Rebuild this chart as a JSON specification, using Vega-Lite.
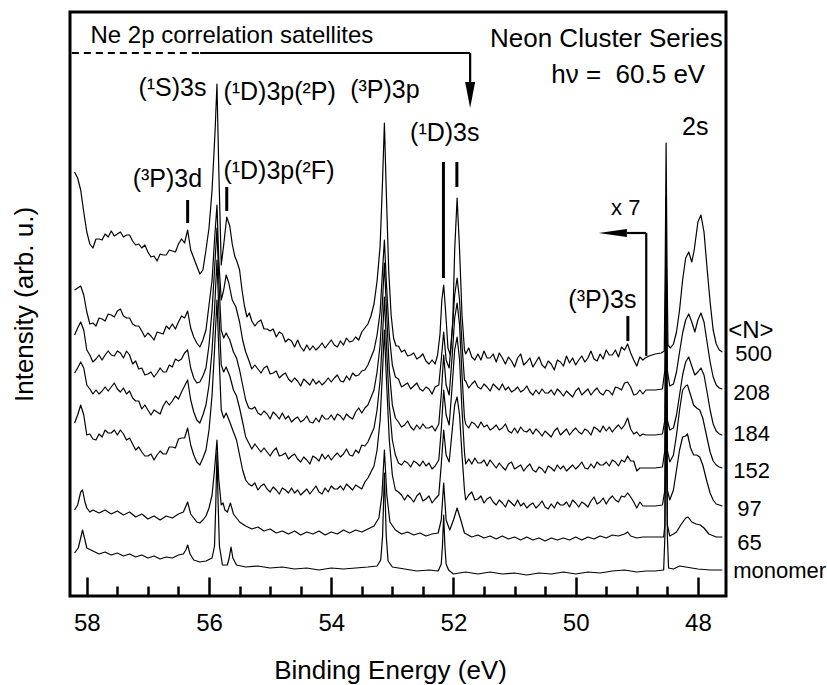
{
"$schema": "https://vega.github.io/schema/vega-lite/v6.json",
"width": 656, "height": 584,
"autosize": {"type": "none"},
"padding": {"left": 70, "top": 12, "right": 101, "bottom": 89},
"background": "white",
"config": {"font": "Liberation Sans", "view": {"stroke": "black", "strokeWidth": 3}},
"datasets": {
"sp": [
{"s":"500","e":58.2,"v":424},{"s":"500","e":58.15,"v":418},{"s":"500","e":58.1,"v":406},{"s":"500","e":58.05,"v":384},{"s":"500","e":58.0,"v":364},
{"s":"500","e":57.95,"v":352},{"s":"500","e":57.9,"v":348},{"s":"500","e":57.85,"v":357},{"s":"500","e":57.8,"v":357},{"s":"500","e":57.75,"v":356},{"s":"500","e":57.7,"v":362},{"s":"500","e":57.65,"v":359},{"s":"500","e":57.6,"v":365},{"s":"500","e":57.55,"v":360},{"s":"500","e":57.5,"v":362},{"s":"500","e":57.45,"v":364},{"s":"500","e":57.4,"v":359},{"s":"500","e":57.35,"v":361},{"s":"500","e":57.3,"v":361},{"s":"500","e":57.25,"v":355},{"s":"500","e":57.2,"v":351},{"s":"500","e":57.15,"v":352},{"s":"500","e":57.1,"v":348},{"s":"500","e":57.05,"v":351},{"s":"500","e":57.0,"v":344},{"s":"500","e":56.95,"v":339},{"s":"500","e":56.9,"v":340},{"s":"500","e":56.85,"v":335},{"s":"500","e":56.8,"v":342},{"s":"500","e":56.75,"v":341},{"s":"500","e":56.7,"v":341},{"s":"500","e":56.65,"v":346},{"s":"500","e":56.6,"v":345},{"s":"500","e":56.55,"v":344},{"s":"500","e":56.5,"v":352},{"s":"500","e":56.45,"v":357},{"s":"500","e":56.4,"v":353},
{"s":"500","e":56.35,"v":366},{"s":"500","e":56.3,"v":346},{"s":"500","e":56.25,"v":338},{"s":"500","e":56.2,"v":330},{"s":"500","e":56.15,"v":322},{"s":"500","e":56.1,"v":326},{"s":"500","e":56.05,"v":346},{"s":"500","e":56.0,"v":368},{"s":"500","e":55.95,"v":406},{"s":"500","e":55.9,"v":466},{"s":"500","e":55.87,"v":512},{"s":"500","e":55.84,"v":426},{"s":"500","e":55.8,"v":331},{"s":"500","e":55.76,"v":351},{"s":"500","e":55.71,"v":379},{"s":"500","e":55.66,"v":370},{"s":"500","e":55.62,"v":352},{"s":"500","e":55.58,"v":340},{"s":"500","e":55.54,"v":334},{"s":"500","e":55.5,"v":326},{"s":"500","e":55.46,"v":306},{"s":"500","e":55.42,"v":290},{"s":"500","e":55.38,"v":279},{"s":"500","e":55.34,"v":283},
{"s":"500","e":55.3,"v":275},{"s":"500","e":55.25,"v":270},{"s":"500","e":55.2,"v":274},{"s":"500","e":55.15,"v":276},{"s":"500","e":55.1,"v":267},{"s":"500","e":55.05,"v":267},{"s":"500","e":55.0,"v":265},{"s":"500","e":54.95,"v":267},{"s":"500","e":54.9,"v":259},{"s":"500","e":54.85,"v":264},{"s":"500","e":54.8,"v":262},{"s":"500","e":54.75,"v":254},{"s":"500","e":54.7,"v":257},{"s":"500","e":54.65,"v":255},{"s":"500","e":54.6,"v":249},{"s":"500","e":54.55,"v":256},{"s":"500","e":54.5,"v":249},{"s":"500","e":54.45,"v":245},{"s":"500","e":54.4,"v":251},{"s":"500","e":54.35,"v":246},{"s":"500","e":54.3,"v":250},{"s":"500","e":54.25,"v":246},{"s":"500","e":54.2,"v":249},{"s":"500","e":54.15,"v":253},{"s":"500","e":54.1,"v":248},{"s":"500","e":54.05,"v":252},{"s":"500","e":54.0,"v":256},{"s":"500","e":53.95,"v":251},{"s":"500","e":53.9,"v":249},{"s":"500","e":53.85,"v":255},{"s":"500","e":53.8,"v":251},{"s":"500","e":53.75,"v":258},{"s":"500","e":53.7,"v":254},{"s":"500","e":53.65,"v":255},{"s":"500","e":53.6,"v":259},{"s":"500","e":53.55,"v":256},{"s":"500","e":53.5,"v":264},
{"s":"500","e":53.45,"v":268},{"s":"500","e":53.4,"v":272},{"s":"500","e":53.35,"v":280},{"s":"500","e":53.3,"v":292},{"s":"500","e":53.25,"v":315},{"s":"500","e":53.2,"v":350},{"s":"500","e":53.16,"v":416},{"s":"500","e":53.13,"v":473},{"s":"500","e":53.1,"v":406},{"s":"500","e":53.06,"v":326},{"s":"500","e":53.02,"v":281},{"s":"500","e":52.98,"v":258},{"s":"500","e":52.94,"v":250},
{"s":"500","e":52.9,"v":250},{"s":"500","e":52.85,"v":244},{"s":"500","e":52.8,"v":246},{"s":"500","e":52.75,"v":240},{"s":"500","e":52.7,"v":241},{"s":"500","e":52.65,"v":243},{"s":"500","e":52.6,"v":237},{"s":"500","e":52.55,"v":239},{"s":"500","e":52.5,"v":242},{"s":"500","e":52.45,"v":235},{"s":"500","e":52.4,"v":232},{"s":"500","e":52.35,"v":236},{"s":"500","e":52.3,"v":232},
{"s":"500","e":52.26,"v":241},{"s":"500","e":52.22,"v":262},{"s":"500","e":52.19,"v":296},{"s":"500","e":52.16,"v":311},{"s":"500","e":52.13,"v":286},{"s":"500","e":52.09,"v":248},{"s":"500","e":52.05,"v":241},{"s":"500","e":52.01,"v":276},{"s":"500","e":51.98,"v":346},{"s":"500","e":51.94,"v":398},{"s":"500","e":51.9,"v":346},{"s":"500","e":51.86,"v":281},{"s":"500","e":51.82,"v":246},
{"s":"500","e":51.8,"v":242},{"s":"500","e":51.75,"v":248},{"s":"500","e":51.7,"v":239},{"s":"500","e":51.65,"v":236},{"s":"500","e":51.6,"v":242},{"s":"500","e":51.55,"v":236},{"s":"500","e":51.5,"v":245},{"s":"500","e":51.45,"v":238},{"s":"500","e":51.4,"v":238},{"s":"500","e":51.35,"v":242},{"s":"500","e":51.3,"v":234},{"s":"500","e":51.25,"v":243},{"s":"500","e":51.2,"v":238},{"s":"500","e":51.15,"v":232},{"s":"500","e":51.1,"v":239},{"s":"500","e":51.05,"v":235},{"s":"500","e":51.0,"v":229},{"s":"500","e":50.95,"v":238},{"s":"500","e":50.9,"v":242},{"s":"500","e":50.85,"v":231},{"s":"500","e":50.8,"v":234},{"s":"500","e":50.75,"v":238},{"s":"500","e":50.7,"v":229},{"s":"500","e":50.65,"v":234},{"s":"500","e":50.6,"v":239},{"s":"500","e":50.55,"v":231},{"s":"500","e":50.5,"v":228},{"s":"500","e":50.45,"v":235},{"s":"500","e":50.4,"v":232},{"s":"500","e":50.35,"v":226},{"s":"500","e":50.3,"v":236},{"s":"500","e":50.25,"v":234},{"s":"500","e":50.2,"v":230},{"s":"500","e":50.15,"v":240},{"s":"500","e":50.1,"v":233},{"s":"500","e":50.05,"v":238},{"s":"500","e":50.0,"v":231},{"s":"500","e":49.95,"v":236},{"s":"500","e":49.9,"v":240},{"s":"500","e":49.85,"v":234},{"s":"500","e":49.8,"v":238},{"s":"500","e":49.75,"v":245},{"s":"500","e":49.7,"v":237},{"s":"500","e":49.65,"v":235},{"s":"500","e":49.6,"v":242},{"s":"500","e":49.55,"v":237},{"s":"500","e":49.5,"v":246},{"s":"500","e":49.45,"v":241},{"s":"500","e":49.4,"v":241},{"s":"500","e":49.35,"v":246},{"s":"500","e":49.3,"v":239},{"s":"500","e":49.25,"v":249},{"s":"500","e":49.2,"v":246},{"s":"500","e":49.15,"v":252},{"s":"500","e":49.1,"v":243},{"s":"500","e":49.05,"v":236},{"s":"500","e":49.0,"v":230},{"s":"500","e":48.95,"v":239},{"s":"500","e":48.9,"v":236},
{"s":"500","e":48.86,"v":238},{"s":"500","e":48.8,"v":240},{"s":"500","e":48.7,"v":242},{"s":"500","e":48.6,"v":243},{"s":"500","e":48.55,"v":245},{"s":"500","e":48.535,"v":330},{"s":"500","e":48.52,"v":453},{"s":"500","e":48.505,"v":330},{"s":"500","e":48.49,"v":251},{"s":"500","e":48.45,"v":248},{"s":"500","e":48.4,"v":252},{"s":"500","e":48.35,"v":264},{"s":"500","e":48.3,"v":286},{"s":"500","e":48.25,"v":316},{"s":"500","e":48.2,"v":338},{"s":"500","e":48.15,"v":344},{"s":"500","e":48.1,"v":334},{"s":"500","e":48.06,"v":346},{"s":"500","e":48.0,"v":374},{"s":"500","e":47.95,"v":381},{"s":"500","e":47.9,"v":364},{"s":"500","e":47.85,"v":328},{"s":"500","e":47.8,"v":294},{"s":"500","e":47.75,"v":266},{"s":"500","e":47.7,"v":252},{"s":"500","e":47.65,"v":246},{"s":"500","e":47.6,"v":244},

{"s":"208","e":58.2,"v":306},{"s":"208","e":58.15,"v":308},{"s":"208","e":58.1,"v":310},{"s":"208","e":58.05,"v":301},{"s":"208","e":58.0,"v":284},
{"s":"208","e":57.95,"v":272},{"s":"208","e":57.9,"v":273},{"s":"208","e":57.85,"v":270},{"s":"208","e":57.8,"v":278},{"s":"208","e":57.75,"v":277},{"s":"208","e":57.7,"v":275},{"s":"208","e":57.65,"v":282},{"s":"208","e":57.6,"v":281},{"s":"208","e":57.55,"v":279},{"s":"208","e":57.5,"v":285},{"s":"208","e":57.45,"v":287},{"s":"208","e":57.4,"v":280},{"s":"208","e":57.35,"v":278},{"s":"208","e":57.3,"v":278},{"s":"208","e":57.25,"v":272},{"s":"208","e":57.2,"v":270},{"s":"208","e":57.15,"v":270},{"s":"208","e":57.1,"v":265},{"s":"208","e":57.05,"v":259},{"s":"208","e":57.0,"v":263},{"s":"208","e":56.95,"v":260},{"s":"208","e":56.9,"v":256},{"s":"208","e":56.85,"v":264},{"s":"208","e":56.8,"v":263},{"s":"208","e":56.75,"v":262},{"s":"208","e":56.7,"v":270},{"s":"208","e":56.65,"v":267},{"s":"208","e":56.6,"v":272},{"s":"208","e":56.55,"v":267},{"s":"208","e":56.5,"v":274},{"s":"208","e":56.45,"v":280},{"s":"208","e":56.4,"v":278},
{"s":"208","e":56.35,"v":285},{"s":"208","e":56.3,"v":268},{"s":"208","e":56.25,"v":259},{"s":"208","e":56.2,"v":253},{"s":"208","e":56.15,"v":249},{"s":"208","e":56.1,"v":256},{"s":"208","e":56.05,"v":266},{"s":"208","e":56.0,"v":291},{"s":"208","e":55.95,"v":316},{"s":"208","e":55.91,"v":356},{"s":"208","e":55.87,"v":391},{"s":"208","e":55.84,"v":336},{"s":"208","e":55.8,"v":296},{"s":"208","e":55.76,"v":306},{"s":"208","e":55.72,"v":321},{"s":"208","e":55.68,"v":314},{"s":"208","e":55.62,"v":296},{"s":"208","e":55.56,"v":289},{"s":"208","e":55.5,"v":274},{"s":"208","e":55.45,"v":256},{"s":"208","e":55.4,"v":244},{"s":"208","e":55.35,"v":236},
{"s":"208","e":55.3,"v":227},{"s":"208","e":55.25,"v":231},{"s":"208","e":55.2,"v":227},{"s":"208","e":55.15,"v":223},{"s":"208","e":55.1,"v":228},{"s":"208","e":55.05,"v":230},{"s":"208","e":55.0,"v":222},{"s":"208","e":54.95,"v":223},{"s":"208","e":54.9,"v":225},{"s":"208","e":54.85,"v":218},{"s":"208","e":54.8,"v":221},{"s":"208","e":54.75,"v":223},{"s":"208","e":54.7,"v":217},{"s":"208","e":54.65,"v":214},{"s":"208","e":54.6,"v":218},{"s":"208","e":54.55,"v":215},{"s":"208","e":54.5,"v":210},{"s":"208","e":54.45,"v":217},{"s":"208","e":54.4,"v":214},{"s":"208","e":54.35,"v":211},{"s":"208","e":54.3,"v":217},{"s":"208","e":54.25,"v":212},{"s":"208","e":54.2,"v":215},{"s":"208","e":54.15,"v":211},{"s":"208","e":54.1,"v":214},{"s":"208","e":54.05,"v":218},{"s":"208","e":54.0,"v":214},{"s":"208","e":53.95,"v":218},{"s":"208","e":53.9,"v":221},{"s":"208","e":53.85,"v":215},{"s":"208","e":53.8,"v":214},{"s":"208","e":53.75,"v":220},{"s":"208","e":53.7,"v":216},{"s":"208","e":53.65,"v":223},{"s":"208","e":53.6,"v":220},{"s":"208","e":53.55,"v":221},{"s":"208","e":53.5,"v":225},
{"s":"208","e":53.45,"v":226},{"s":"208","e":53.4,"v":231},{"s":"208","e":53.3,"v":246},{"s":"208","e":53.25,"v":261},{"s":"208","e":53.2,"v":284},{"s":"208","e":53.16,"v":326},{"s":"208","e":53.13,"v":356},{"s":"208","e":53.1,"v":316},{"s":"208","e":53.05,"v":261},{"s":"208","e":53.0,"v":231},{"s":"208","e":52.95,"v":219},
{"s":"208","e":52.9,"v":217},{"s":"208","e":52.85,"v":209},{"s":"208","e":52.8,"v":211},{"s":"208","e":52.75,"v":213},{"s":"208","e":52.7,"v":207},{"s":"208","e":52.65,"v":210},{"s":"208","e":52.6,"v":213},{"s":"208","e":52.55,"v":207},{"s":"208","e":52.5,"v":205},{"s":"208","e":52.45,"v":209},{"s":"208","e":52.4,"v":207},{"s":"208","e":52.35,"v":202},{"s":"208","e":52.3,"v":209},
{"s":"208","e":52.24,"v":211},{"s":"208","e":52.2,"v":236},{"s":"208","e":52.16,"v":264},{"s":"208","e":52.12,"v":236},{"s":"208","e":52.07,"v":228},{"s":"208","e":52.02,"v":266},{"s":"208","e":51.98,"v":301},{"s":"208","e":51.94,"v":318},{"s":"208","e":51.9,"v":296},{"s":"208","e":51.86,"v":251},{"s":"208","e":51.82,"v":216},
{"s":"208","e":51.8,"v":215},{"s":"208","e":51.75,"v":208},{"s":"208","e":51.7,"v":212},{"s":"208","e":51.65,"v":215},{"s":"208","e":51.6,"v":209},{"s":"208","e":51.55,"v":207},{"s":"208","e":51.5,"v":212},{"s":"208","e":51.45,"v":209},{"s":"208","e":51.4,"v":205},{"s":"208","e":51.35,"v":212},{"s":"208","e":51.3,"v":209},{"s":"208","e":51.25,"v":206},{"s":"208","e":51.2,"v":212},{"s":"208","e":51.15,"v":206},{"s":"208","e":51.1,"v":209},{"s":"208","e":51.05,"v":204},{"s":"208","e":51.0,"v":206},{"s":"208","e":50.95,"v":209},{"s":"208","e":50.9,"v":204},{"s":"208","e":50.85,"v":206},{"s":"208","e":50.8,"v":210},{"s":"208","e":50.75,"v":204},{"s":"208","e":50.7,"v":201},{"s":"208","e":50.65,"v":206},{"s":"208","e":50.6,"v":202},{"s":"208","e":50.55,"v":207},{"s":"208","e":50.5,"v":203},{"s":"208","e":50.45,"v":203},{"s":"208","e":50.4,"v":206},{"s":"208","e":50.35,"v":201},{"s":"208","e":50.3,"v":207},{"s":"208","e":50.25,"v":204},{"s":"208","e":50.2,"v":200},{"s":"208","e":50.15,"v":205},{"s":"208","e":50.1,"v":202},{"s":"208","e":50.05,"v":199},{"s":"208","e":50.0,"v":205},{"s":"208","e":49.95,"v":208},{"s":"208","e":49.9,"v":201},{"s":"208","e":49.85,"v":204},{"s":"208","e":49.8,"v":207},{"s":"208","e":49.75,"v":201},{"s":"208","e":49.7,"v":205},{"s":"208","e":49.65,"v":208},{"s":"208","e":49.6,"v":203},{"s":"208","e":49.55,"v":201},{"s":"208","e":49.5,"v":206},{"s":"208","e":49.45,"v":205},{"s":"208","e":49.4,"v":201},{"s":"208","e":49.35,"v":209},{"s":"208","e":49.3,"v":208},{"s":"208","e":49.25,"v":206},{"s":"208","e":49.2,"v":213},{"s":"208","e":49.15,"v":214},{"s":"208","e":49.1,"v":209},{"s":"208","e":49.05,"v":201},{"s":"208","e":49.0,"v":202},{"s":"208","e":48.95,"v":206},{"s":"208","e":48.9,"v":202},
{"s":"208","e":48.85,"v":206},{"s":"208","e":48.7,"v":206},{"s":"208","e":48.58,"v":207},{"s":"208","e":48.54,"v":226},{"s":"208","e":48.52,"v":366},{"s":"208","e":48.5,"v":226},{"s":"208","e":48.46,"v":210},{"s":"208","e":48.4,"v":212},{"s":"208","e":48.35,"v":224},{"s":"208","e":48.3,"v":244},{"s":"208","e":48.25,"v":263},{"s":"208","e":48.2,"v":276},{"s":"208","e":48.15,"v":282},{"s":"208","e":48.1,"v":274},{"s":"208","e":48.05,"v":264},{"s":"208","e":48.0,"v":276},{"s":"208","e":47.95,"v":283},{"s":"208","e":47.9,"v":274},{"s":"208","e":47.85,"v":254},{"s":"208","e":47.8,"v":234},{"s":"208","e":47.75,"v":219},{"s":"208","e":47.7,"v":211},{"s":"208","e":47.65,"v":208},{"s":"208","e":47.6,"v":207},

{"s":"184","e":58.2,"v":261},{"s":"184","e":58.15,"v":268},{"s":"184","e":58.1,"v":274},{"s":"184","e":58.05,"v":266},{"s":"184","e":58.0,"v":246},
{"s":"184","e":57.95,"v":241},{"s":"184","e":57.9,"v":234},{"s":"184","e":57.85,"v":237},{"s":"184","e":57.8,"v":241},{"s":"184","e":57.75,"v":236},{"s":"184","e":57.7,"v":241},{"s":"184","e":57.65,"v":245},{"s":"184","e":57.6,"v":241},{"s":"184","e":57.55,"v":240},{"s":"184","e":57.5,"v":245},{"s":"184","e":57.45,"v":243},{"s":"184","e":57.4,"v":238},{"s":"184","e":57.35,"v":245},{"s":"184","e":57.3,"v":241},{"s":"184","e":57.25,"v":232},{"s":"184","e":57.2,"v":235},{"s":"184","e":57.15,"v":227},{"s":"184","e":57.1,"v":228},{"s":"184","e":57.05,"v":221},{"s":"184","e":57.0,"v":222},{"s":"184","e":56.95,"v":224},{"s":"184","e":56.9,"v":219},{"s":"184","e":56.85,"v":223},{"s":"184","e":56.8,"v":228},{"s":"184","e":56.75,"v":224},{"s":"184","e":56.7,"v":224},{"s":"184","e":56.65,"v":231},{"s":"184","e":56.6,"v":229},{"s":"184","e":56.55,"v":237},{"s":"184","e":56.5,"v":235},{"s":"184","e":56.45,"v":237},{"s":"184","e":56.4,"v":243},
{"s":"184","e":56.35,"v":246},{"s":"184","e":56.3,"v":228},{"s":"184","e":56.25,"v":218},{"s":"184","e":56.2,"v":213},{"s":"184","e":56.15,"v":214},{"s":"184","e":56.1,"v":220},{"s":"184","e":56.05,"v":228},{"s":"184","e":56.0,"v":251},{"s":"184","e":55.95,"v":286},{"s":"184","e":55.91,"v":326},{"s":"184","e":55.87,"v":368},{"s":"184","e":55.84,"v":316},{"s":"184","e":55.8,"v":266},{"s":"184","e":55.76,"v":258},{"s":"184","e":55.72,"v":263},{"s":"184","e":55.66,"v":256},{"s":"184","e":55.6,"v":244},{"s":"184","e":55.55,"v":238},{"s":"184","e":55.5,"v":226},{"s":"184","e":55.45,"v":211},{"s":"184","e":55.4,"v":196},{"s":"184","e":55.35,"v":188},
{"s":"184","e":55.3,"v":187},{"s":"184","e":55.25,"v":189},{"s":"184","e":55.2,"v":183},{"s":"184","e":55.15,"v":181},{"s":"184","e":55.1,"v":185},{"s":"184","e":55.05,"v":182},{"s":"184","e":55.0,"v":177},{"s":"184","e":54.95,"v":184},{"s":"184","e":54.9,"v":181},{"s":"184","e":54.85,"v":177},{"s":"184","e":54.8,"v":183},{"s":"184","e":54.75,"v":177},{"s":"184","e":54.7,"v":180},{"s":"184","e":54.65,"v":174},{"s":"184","e":54.6,"v":177},{"s":"184","e":54.55,"v":179},{"s":"184","e":54.5,"v":174},{"s":"184","e":54.45,"v":176},{"s":"184","e":54.4,"v":180},{"s":"184","e":54.35,"v":174},{"s":"184","e":54.3,"v":173},{"s":"184","e":54.25,"v":178},{"s":"184","e":54.2,"v":174},{"s":"184","e":54.15,"v":181},{"s":"184","e":54.1,"v":177},{"s":"184","e":54.05,"v":177},{"s":"184","e":54.0,"v":181},{"s":"184","e":53.95,"v":176},{"s":"184","e":53.9,"v":182},{"s":"184","e":53.85,"v":180},{"s":"184","e":53.8,"v":176},{"s":"184","e":53.75,"v":182},{"s":"184","e":53.7,"v":179},{"s":"184","e":53.65,"v":177},{"s":"184","e":53.6,"v":184},{"s":"184","e":53.55,"v":188},{"s":"184","e":53.5,"v":183},
{"s":"184","e":53.45,"v":188},{"s":"184","e":53.4,"v":191},{"s":"184","e":53.3,"v":206},{"s":"184","e":53.25,"v":224},{"s":"184","e":53.2,"v":251},{"s":"184","e":53.16,"v":296},{"s":"184","e":53.13,"v":333},{"s":"184","e":53.1,"v":291},{"s":"184","e":53.05,"v":226},{"s":"184","e":53.0,"v":191},{"s":"184","e":52.95,"v":178},
{"s":"184","e":52.9,"v":174},{"s":"184","e":52.85,"v":169},{"s":"184","e":52.8,"v":171},{"s":"184","e":52.75,"v":175},{"s":"184","e":52.7,"v":169},{"s":"184","e":52.65,"v":166},{"s":"184","e":52.6,"v":171},{"s":"184","e":52.55,"v":167},{"s":"184","e":52.5,"v":172},{"s":"184","e":52.45,"v":168},{"s":"184","e":52.4,"v":168},{"s":"184","e":52.35,"v":170},{"s":"184","e":52.3,"v":165},
{"s":"184","e":52.24,"v":172},{"s":"184","e":52.2,"v":201},{"s":"184","e":52.16,"v":241},{"s":"184","e":52.12,"v":211},{"s":"184","e":52.07,"v":201},{"s":"184","e":52.02,"v":241},{"s":"184","e":51.98,"v":278},{"s":"184","e":51.94,"v":293},{"s":"184","e":51.9,"v":271},{"s":"184","e":51.86,"v":221},{"s":"184","e":51.82,"v":178},
{"s":"184","e":51.8,"v":172},{"s":"184","e":51.75,"v":168},{"s":"184","e":51.7,"v":174},{"s":"184","e":51.65,"v":172},{"s":"184","e":51.6,"v":168},{"s":"184","e":51.55,"v":174},{"s":"184","e":51.5,"v":169},{"s":"184","e":51.45,"v":171},{"s":"184","e":51.4,"v":166},{"s":"184","e":51.35,"v":168},{"s":"184","e":51.3,"v":171},{"s":"184","e":51.25,"v":166},{"s":"184","e":51.2,"v":168},{"s":"184","e":51.15,"v":172},{"s":"184","e":51.1,"v":165},{"s":"184","e":51.05,"v":163},{"s":"184","e":51.0,"v":168},{"s":"184","e":50.95,"v":163},{"s":"184","e":50.9,"v":169},{"s":"184","e":50.85,"v":165},{"s":"184","e":50.8,"v":164},{"s":"184","e":50.75,"v":167},{"s":"184","e":50.7,"v":162},{"s":"184","e":50.65,"v":167},{"s":"184","e":50.6,"v":164},{"s":"184","e":50.55,"v":160},{"s":"184","e":50.5,"v":165},{"s":"184","e":50.45,"v":162},{"s":"184","e":50.4,"v":159},{"s":"184","e":50.35,"v":165},{"s":"184","e":50.3,"v":168},{"s":"184","e":50.25,"v":161},{"s":"184","e":50.2,"v":164},{"s":"184","e":50.15,"v":167},{"s":"184","e":50.1,"v":161},{"s":"184","e":50.05,"v":165},{"s":"184","e":50.0,"v":168},{"s":"184","e":49.95,"v":164},{"s":"184","e":49.9,"v":162},{"s":"184","e":49.85,"v":167},{"s":"184","e":49.8,"v":165},{"s":"184","e":49.75,"v":161},{"s":"184","e":49.7,"v":169},{"s":"184","e":49.65,"v":167},{"s":"184","e":49.6,"v":164},{"s":"184","e":49.55,"v":170},{"s":"184","e":49.5,"v":165},{"s":"184","e":49.45,"v":169},{"s":"184","e":49.4,"v":164},{"s":"184","e":49.35,"v":168},{"s":"184","e":49.3,"v":171},{"s":"184","e":49.25,"v":167},{"s":"184","e":49.2,"v":171},{"s":"184","e":49.15,"v":178},{"s":"184","e":49.1,"v":167},{"s":"184","e":49.05,"v":162},{"s":"184","e":49.0,"v":164},{"s":"184","e":48.95,"v":160},{"s":"184","e":48.9,"v":162},
{"s":"184","e":48.85,"v":161},{"s":"184","e":48.7,"v":161},{"s":"184","e":48.58,"v":162},{"s":"184","e":48.54,"v":176},{"s":"184","e":48.52,"v":333},{"s":"184","e":48.5,"v":176},{"s":"184","e":48.46,"v":166},{"s":"184","e":48.4,"v":168},{"s":"184","e":48.35,"v":181},{"s":"184","e":48.3,"v":201},{"s":"184","e":48.25,"v":221},{"s":"184","e":48.2,"v":234},{"s":"184","e":48.15,"v":239},{"s":"184","e":48.1,"v":230},{"s":"184","e":48.05,"v":221},{"s":"184","e":48.0,"v":224},{"s":"184","e":47.95,"v":228},{"s":"184","e":47.9,"v":221},{"s":"184","e":47.85,"v":204},{"s":"184","e":47.8,"v":186},{"s":"184","e":47.75,"v":172},{"s":"184","e":47.7,"v":165},{"s":"184","e":47.65,"v":162},{"s":"184","e":47.6,"v":161},

{"s":"152","e":58.2,"v":223},{"s":"152","e":58.15,"v":228},{"s":"152","e":58.1,"v":234},{"s":"152","e":58.05,"v":228},{"s":"152","e":58.0,"v":211},
{"s":"152","e":57.95,"v":207},{"s":"152","e":57.9,"v":202},{"s":"152","e":57.85,"v":206},{"s":"152","e":57.8,"v":202},{"s":"152","e":57.75,"v":205},{"s":"152","e":57.7,"v":209},{"s":"152","e":57.65,"v":205},{"s":"152","e":57.6,"v":209},{"s":"152","e":57.55,"v":213},{"s":"152","e":57.5,"v":207},{"s":"152","e":57.45,"v":204},{"s":"152","e":57.4,"v":208},{"s":"152","e":57.35,"v":202},{"s":"152","e":57.3,"v":205},{"s":"152","e":57.25,"v":198},{"s":"152","e":57.2,"v":195},{"s":"152","e":57.15,"v":195},{"s":"152","e":57.1,"v":187},{"s":"152","e":57.05,"v":191},{"s":"152","e":57.0,"v":186},{"s":"152","e":56.95,"v":181},{"s":"152","e":56.9,"v":186},{"s":"152","e":56.85,"v":184},{"s":"152","e":56.8,"v":182},{"s":"152","e":56.75,"v":190},{"s":"152","e":56.7,"v":195},{"s":"152","e":56.65,"v":191},{"s":"152","e":56.6,"v":195},{"s":"152","e":56.55,"v":200},{"s":"152","e":56.5,"v":197},{"s":"152","e":56.45,"v":204},{"s":"152","e":56.4,"v":210},
{"s":"152","e":56.35,"v":216},{"s":"152","e":56.3,"v":196},{"s":"152","e":56.25,"v":184},{"s":"152","e":56.2,"v":176},{"s":"152","e":56.15,"v":173},{"s":"152","e":56.1,"v":181},{"s":"152","e":56.05,"v":191},{"s":"152","e":56.0,"v":211},{"s":"152","e":55.95,"v":246},{"s":"152","e":55.91,"v":286},{"s":"152","e":55.87,"v":336},{"s":"152","e":55.84,"v":286},{"s":"152","e":55.8,"v":231},{"s":"152","e":55.76,"v":224},{"s":"152","e":55.72,"v":229},{"s":"152","e":55.66,"v":220},{"s":"152","e":55.6,"v":206},{"s":"152","e":55.55,"v":200},{"s":"152","e":55.5,"v":188},{"s":"152","e":55.45,"v":174},{"s":"152","e":55.4,"v":159},{"s":"152","e":55.35,"v":153},
{"s":"152","e":55.3,"v":147},{"s":"152","e":55.25,"v":152},{"s":"152","e":55.2,"v":148},{"s":"152","e":55.15,"v":144},{"s":"152","e":55.1,"v":148},{"s":"152","e":55.05,"v":144},{"s":"152","e":55.0,"v":140},{"s":"152","e":54.95,"v":145},{"s":"152","e":54.9,"v":148},{"s":"152","e":54.85,"v":140},{"s":"152","e":54.8,"v":141},{"s":"152","e":54.75,"v":143},{"s":"152","e":54.7,"v":137},{"s":"152","e":54.65,"v":140},{"s":"152","e":54.6,"v":142},{"s":"152","e":54.55,"v":137},{"s":"152","e":54.5,"v":134},{"s":"152","e":54.45,"v":139},{"s":"152","e":54.4,"v":136},{"s":"152","e":54.35,"v":132},{"s":"152","e":54.3,"v":140},{"s":"152","e":54.25,"v":138},{"s":"152","e":54.2,"v":135},{"s":"152","e":54.15,"v":142},{"s":"152","e":54.1,"v":137},{"s":"152","e":54.05,"v":141},{"s":"152","e":54.0,"v":136},{"s":"152","e":53.95,"v":140},{"s":"152","e":53.9,"v":143},{"s":"152","e":53.85,"v":139},{"s":"152","e":53.8,"v":142},{"s":"152","e":53.75,"v":147},{"s":"152","e":53.7,"v":141},{"s":"152","e":53.65,"v":140},{"s":"152","e":53.6,"v":146},{"s":"152","e":53.55,"v":143},{"s":"152","e":53.5,"v":151},
{"s":"152","e":53.45,"v":150},{"s":"152","e":53.4,"v":154},{"s":"152","e":53.3,"v":168},{"s":"152","e":53.25,"v":186},{"s":"152","e":53.2,"v":216},{"s":"152","e":53.16,"v":261},{"s":"152","e":53.13,"v":299},{"s":"152","e":53.1,"v":256},{"s":"152","e":53.05,"v":191},{"s":"152","e":53.0,"v":156},{"s":"152","e":52.95,"v":141},
{"s":"152","e":52.9,"v":133},{"s":"152","e":52.85,"v":131},{"s":"152","e":52.8,"v":135},{"s":"152","e":52.75,"v":133},{"s":"152","e":52.7,"v":129},{"s":"152","e":52.65,"v":135},{"s":"152","e":52.6,"v":133},{"s":"152","e":52.55,"v":130},{"s":"152","e":52.5,"v":135},{"s":"152","e":52.45,"v":130},{"s":"152","e":52.4,"v":133},{"s":"152","e":52.35,"v":127},{"s":"152","e":52.3,"v":130},
{"s":"152","e":52.24,"v":136},{"s":"152","e":52.2,"v":166},{"s":"152","e":52.16,"v":206},{"s":"152","e":52.12,"v":181},{"s":"152","e":52.07,"v":171},{"s":"152","e":52.02,"v":211},{"s":"152","e":51.98,"v":246},{"s":"152","e":51.94,"v":259},{"s":"152","e":51.9,"v":236},{"s":"152","e":51.86,"v":186},{"s":"152","e":51.82,"v":144},
{"s":"152","e":51.8,"v":132},{"s":"152","e":51.75,"v":137},{"s":"152","e":51.7,"v":132},{"s":"152","e":51.65,"v":138},{"s":"152","e":51.6,"v":133},{"s":"152","e":51.55,"v":133},{"s":"152","e":51.5,"v":136},{"s":"152","e":51.45,"v":130},{"s":"152","e":51.4,"v":136},{"s":"152","e":51.35,"v":132},{"s":"152","e":51.3,"v":128},{"s":"152","e":51.25,"v":133},{"s":"152","e":51.2,"v":129},{"s":"152","e":51.15,"v":126},{"s":"152","e":51.1,"v":132},{"s":"152","e":51.05,"v":134},{"s":"152","e":51.0,"v":127},{"s":"152","e":50.95,"v":129},{"s":"152","e":50.9,"v":131},{"s":"152","e":50.85,"v":125},{"s":"152","e":50.8,"v":129},{"s":"152","e":50.75,"v":132},{"s":"152","e":50.7,"v":126},{"s":"152","e":50.65,"v":124},{"s":"152","e":50.6,"v":129},{"s":"152","e":50.55,"v":127},{"s":"152","e":50.5,"v":123},{"s":"152","e":50.45,"v":130},{"s":"152","e":50.4,"v":128},{"s":"152","e":50.35,"v":125},{"s":"152","e":50.3,"v":131},{"s":"152","e":50.25,"v":127},{"s":"152","e":50.2,"v":130},{"s":"152","e":50.15,"v":125},{"s":"152","e":50.1,"v":128},{"s":"152","e":50.05,"v":131},{"s":"152","e":50.0,"v":127},{"s":"152","e":49.95,"v":130},{"s":"152","e":49.9,"v":134},{"s":"152","e":49.85,"v":128},{"s":"152","e":49.8,"v":127},{"s":"152","e":49.75,"v":132},{"s":"152","e":49.7,"v":128},{"s":"152","e":49.65,"v":134},{"s":"152","e":49.6,"v":131},{"s":"152","e":49.55,"v":131},{"s":"152","e":49.5,"v":134},{"s":"152","e":49.45,"v":130},{"s":"152","e":49.4,"v":136},{"s":"152","e":49.35,"v":134},{"s":"152","e":49.3,"v":130},{"s":"152","e":49.25,"v":136},{"s":"152","e":49.2,"v":134},{"s":"152","e":49.15,"v":140},{"s":"152","e":49.1,"v":135},{"s":"152","e":49.05,"v":135},{"s":"152","e":49.0,"v":125},{"s":"152","e":48.95,"v":128},{"s":"152","e":48.9,"v":128},
{"s":"152","e":48.85,"v":128},{"s":"152","e":48.7,"v":128},{"s":"152","e":48.58,"v":129},{"s":"152","e":48.54,"v":146},{"s":"152","e":48.52,"v":296},{"s":"152","e":48.5,"v":146},{"s":"152","e":48.46,"v":134},{"s":"152","e":48.4,"v":141},{"s":"152","e":48.35,"v":161},{"s":"152","e":48.3,"v":186},{"s":"152","e":48.25,"v":206},{"s":"152","e":48.2,"v":210},{"s":"152","e":48.17,"v":211},{"s":"152","e":48.12,"v":201},{"s":"152","e":48.07,"v":191},{"s":"152","e":48.02,"v":188},{"s":"152","e":47.97,"v":186},{"s":"152","e":47.92,"v":178},{"s":"152","e":47.85,"v":158},{"s":"152","e":47.8,"v":144},{"s":"152","e":47.75,"v":135},{"s":"152","e":47.7,"v":131},{"s":"152","e":47.65,"v":129},{"s":"152","e":47.6,"v":128},

{"s":"97","e":58.2,"v":173},{"s":"97","e":58.15,"v":181},{"s":"97","e":58.1,"v":191},{"s":"97","e":58.05,"v":181},{"s":"97","e":58.0,"v":161},
{"s":"97","e":57.95,"v":162},{"s":"97","e":57.9,"v":157},{"s":"97","e":57.85,"v":156},{"s":"97","e":57.8,"v":162},{"s":"97","e":57.75,"v":159},{"s":"97","e":57.7,"v":166},{"s":"97","e":57.65,"v":163},{"s":"97","e":57.6,"v":163},{"s":"97","e":57.55,"v":166},{"s":"97","e":57.5,"v":161},{"s":"97","e":57.45,"v":166},{"s":"97","e":57.4,"v":162},{"s":"97","e":57.35,"v":156},{"s":"97","e":57.3,"v":158},{"s":"97","e":57.25,"v":152},{"s":"97","e":57.2,"v":146},{"s":"97","e":57.15,"v":149},{"s":"97","e":57.1,"v":144},{"s":"97","e":57.05,"v":140},{"s":"97","e":57.0,"v":140},{"s":"97","e":56.95,"v":142},{"s":"97","e":56.9,"v":136},{"s":"97","e":56.85,"v":141},{"s":"97","e":56.8,"v":145},{"s":"97","e":56.75,"v":142},{"s":"97","e":56.7,"v":142},{"s":"97","e":56.65,"v":149},{"s":"97","e":56.6,"v":149},{"s":"97","e":56.55,"v":148},{"s":"97","e":56.5,"v":157},{"s":"97","e":56.45,"v":158},{"s":"97","e":56.4,"v":158},
{"s":"97","e":56.35,"v":168},{"s":"97","e":56.3,"v":151},{"s":"97","e":56.25,"v":141},{"s":"97","e":56.2,"v":134},{"s":"97","e":56.15,"v":131},{"s":"97","e":56.1,"v":138},{"s":"97","e":56.05,"v":146},{"s":"97","e":56.0,"v":166},{"s":"97","e":55.95,"v":201},{"s":"97","e":55.91,"v":246},{"s":"97","e":55.87,"v":296},{"s":"97","e":55.84,"v":246},{"s":"97","e":55.8,"v":186},{"s":"97","e":55.76,"v":178},{"s":"97","e":55.72,"v":183},{"s":"97","e":55.66,"v":174},{"s":"97","e":55.6,"v":164},{"s":"97","e":55.55,"v":156},{"s":"97","e":55.5,"v":141},{"s":"97","e":55.45,"v":126},{"s":"97","e":55.4,"v":116},{"s":"97","e":55.35,"v":112},
{"s":"97","e":55.3,"v":110},{"s":"97","e":55.25,"v":113},{"s":"97","e":55.2,"v":106},{"s":"97","e":55.15,"v":110},{"s":"97","e":55.1,"v":112},{"s":"97","e":55.05,"v":107},{"s":"97","e":55.0,"v":104},{"s":"97","e":54.95,"v":109},{"s":"97","e":54.9,"v":106},{"s":"97","e":54.85,"v":102},{"s":"97","e":54.8,"v":108},{"s":"97","e":54.75,"v":106},{"s":"97","e":54.7,"v":103},{"s":"97","e":54.65,"v":108},{"s":"97","e":54.6,"v":103},{"s":"97","e":54.55,"v":106},{"s":"97","e":54.5,"v":101},{"s":"97","e":54.45,"v":104},{"s":"97","e":54.4,"v":107},{"s":"97","e":54.35,"v":102},{"s":"97","e":54.3,"v":106},{"s":"97","e":54.25,"v":110},{"s":"97","e":54.2,"v":104},{"s":"97","e":54.15,"v":102},{"s":"97","e":54.1,"v":108},{"s":"97","e":54.05,"v":104},{"s":"97","e":54.0,"v":110},{"s":"97","e":53.95,"v":107},{"s":"97","e":53.9,"v":107},{"s":"97","e":53.85,"v":110},{"s":"97","e":53.8,"v":106},{"s":"97","e":53.75,"v":112},{"s":"97","e":53.7,"v":109},{"s":"97","e":53.65,"v":106},{"s":"97","e":53.6,"v":111},{"s":"97","e":53.55,"v":109},{"s":"97","e":53.5,"v":107},
{"s":"97","e":53.45,"v":114},{"s":"97","e":53.4,"v":118},{"s":"97","e":53.3,"v":130},{"s":"97","e":53.25,"v":146},{"s":"97","e":53.2,"v":176},{"s":"97","e":53.16,"v":226},{"s":"97","e":53.13,"v":266},{"s":"97","e":53.1,"v":221},{"s":"97","e":53.05,"v":156},{"s":"97","e":53.0,"v":121},{"s":"97","e":52.95,"v":106},
{"s":"97","e":52.9,"v":104},{"s":"97","e":52.85,"v":101},{"s":"97","e":52.8,"v":96},{"s":"97","e":52.75,"v":101},{"s":"97","e":52.7,"v":98},{"s":"97","e":52.65,"v":94},{"s":"97","e":52.6,"v":100},{"s":"97","e":52.55,"v":103},{"s":"97","e":52.5,"v":95},{"s":"97","e":52.45,"v":97},{"s":"97","e":52.4,"v":100},{"s":"97","e":52.35,"v":93},{"s":"97","e":52.3,"v":97},
{"s":"97","e":52.24,"v":101},{"s":"97","e":52.2,"v":131},{"s":"97","e":52.16,"v":166},{"s":"97","e":52.12,"v":141},{"s":"97","e":52.07,"v":134},{"s":"97","e":52.02,"v":166},{"s":"97","e":51.98,"v":191},{"s":"97","e":51.94,"v":199},{"s":"97","e":51.9,"v":181},{"s":"97","e":51.86,"v":141},{"s":"97","e":51.82,"v":106},
{"s":"97","e":51.8,"v":96},{"s":"97","e":51.75,"v":101},{"s":"97","e":51.7,"v":104},{"s":"97","e":51.65,"v":96},{"s":"97","e":51.6,"v":97},{"s":"97","e":51.55,"v":100},{"s":"97","e":51.5,"v":93},{"s":"97","e":51.45,"v":97},{"s":"97","e":51.4,"v":99},{"s":"97","e":51.35,"v":94},{"s":"97","e":51.3,"v":91},{"s":"97","e":51.25,"v":96},{"s":"97","e":51.2,"v":93},{"s":"97","e":51.15,"v":89},{"s":"97","e":51.1,"v":96},{"s":"97","e":51.05,"v":93},{"s":"97","e":51.0,"v":90},{"s":"97","e":50.95,"v":96},{"s":"97","e":50.9,"v":90},{"s":"97","e":50.85,"v":93},{"s":"97","e":50.8,"v":88},{"s":"97","e":50.75,"v":91},{"s":"97","e":50.7,"v":93},{"s":"97","e":50.65,"v":88},{"s":"97","e":50.6,"v":91},{"s":"97","e":50.55,"v":95},{"s":"97","e":50.5,"v":89},{"s":"97","e":50.45,"v":87},{"s":"97","e":50.4,"v":92},{"s":"97","e":50.35,"v":88},{"s":"97","e":50.3,"v":94},{"s":"97","e":50.25,"v":91},{"s":"97","e":50.2,"v":91},{"s":"97","e":50.15,"v":94},{"s":"97","e":50.1,"v":89},{"s":"97","e":50.05,"v":96},{"s":"97","e":50.0,"v":93},{"s":"97","e":49.95,"v":89},{"s":"97","e":49.9,"v":94},{"s":"97","e":49.85,"v":92},{"s":"97","e":49.8,"v":89},{"s":"97","e":49.75,"v":95},{"s":"97","e":49.7,"v":99},{"s":"97","e":49.65,"v":92},{"s":"97","e":49.6,"v":94},{"s":"97","e":49.55,"v":98},{"s":"97","e":49.5,"v":92},{"s":"97","e":49.45,"v":97},{"s":"97","e":49.4,"v":100},{"s":"97","e":49.35,"v":96},{"s":"97","e":49.3,"v":94},{"s":"97","e":49.25,"v":100},{"s":"97","e":49.2,"v":99},{"s":"97","e":49.15,"v":103},{"s":"97","e":49.1,"v":99},{"s":"97","e":49.05,"v":94},{"s":"97","e":49.0,"v":88},{"s":"97","e":48.95,"v":94},{"s":"97","e":48.9,"v":90},
{"s":"97","e":48.85,"v":90},{"s":"97","e":48.7,"v":90},{"s":"97","e":48.58,"v":91},{"s":"97","e":48.54,"v":106},{"s":"97","e":48.52,"v":246},{"s":"97","e":48.5,"v":106},{"s":"97","e":48.46,"v":96},{"s":"97","e":48.4,"v":106},{"s":"97","e":48.35,"v":126},{"s":"97","e":48.3,"v":146},{"s":"97","e":48.25,"v":159},{"s":"97","e":48.2,"v":160},{"s":"97","e":48.17,"v":162},{"s":"97","e":48.12,"v":148},{"s":"97","e":48.07,"v":141},{"s":"97","e":48.02,"v":141},{"s":"97","e":47.97,"v":139},{"s":"97","e":47.92,"v":131},{"s":"97","e":47.85,"v":114},{"s":"97","e":47.8,"v":103},{"s":"97","e":47.75,"v":96},{"s":"97","e":47.7,"v":92},{"s":"97","e":47.65,"v":91},{"s":"97","e":47.6,"v":90},

{"s":"65","e":58.2,"v":86},{"s":"65","e":58.15,"v":91},{"s":"65","e":58.1,"v":104},{"s":"65","e":58.07,"v":106},{"s":"65","e":58.03,"v":94},{"s":"65","e":58.0,"v":88},{"s":"65","e":57.95,"v":84},{"s":"65","e":57.9,"v":86},{"s":"65","e":57.8,"v":83},{"s":"65","e":57.7,"v":86},{"s":"65","e":57.6,"v":82},{"s":"65","e":57.5,"v":85},{"s":"65","e":57.4,"v":81},{"s":"65","e":57.3,"v":84},{"s":"65","e":57.2,"v":79},{"s":"65","e":57.1,"v":82},{"s":"65","e":57.0,"v":77},{"s":"65","e":56.9,"v":80},{"s":"65","e":56.8,"v":76},{"s":"65","e":56.7,"v":80},{"s":"65","e":56.6,"v":78},{"s":"65","e":56.5,"v":82},{"s":"65","e":56.42,"v":84},{"s":"65","e":56.35,"v":94},{"s":"65","e":56.3,"v":82},{"s":"65","e":56.25,"v":78},{"s":"65","e":56.2,"v":74},{"s":"65","e":56.15,"v":73},{"s":"65","e":56.1,"v":76},{"s":"65","e":56.05,"v":80},{"s":"65","e":56.0,"v":88},{"s":"65","e":55.95,"v":101},{"s":"65","e":55.91,"v":126},{"s":"65","e":55.87,"v":156},{"s":"65","e":55.84,"v":116},{"s":"65","e":55.8,"v":91},{"s":"65","e":55.77,"v":93},{"s":"65","e":55.74,"v":86},{"s":"65","e":55.7,"v":84},{"s":"65","e":55.65,"v":93},{"s":"65","e":55.6,"v":82},{"s":"65","e":55.55,"v":78},{"s":"65","e":55.5,"v":74},{"s":"65","e":55.4,"v":70},{"s":"65","e":55.3,"v":67},{"s":"65","e":55.2,"v":69},{"s":"65","e":55.1,"v":65},{"s":"65","e":55.0,"v":67},{"s":"65","e":54.9,"v":63},{"s":"65","e":54.8,"v":65},{"s":"65","e":54.7,"v":62},{"s":"65","e":54.6,"v":65},{"s":"65","e":54.5,"v":61},{"s":"65","e":54.4,"v":64},{"s":"65","e":54.3,"v":62},{"s":"65","e":54.2,"v":65},{"s":"65","e":54.1,"v":61},{"s":"65","e":54.0,"v":64},{"s":"65","e":53.9,"v":62},{"s":"65","e":53.8,"v":66},{"s":"65","e":53.7,"v":63},{"s":"65","e":53.6,"v":66},{"s":"65","e":53.5,"v":64},{"s":"65","e":53.4,"v":67},{"s":"65","e":53.3,"v":70},{"s":"65","e":53.22,"v":78},{"s":"65","e":53.17,"v":101},{"s":"65","e":53.13,"v":146},{"s":"65","e":53.09,"v":101},{"s":"65","e":53.04,"v":74},{"s":"65","e":52.95,"v":66},{"s":"65","e":52.85,"v":62},{"s":"65","e":52.75,"v":64},{"s":"65","e":52.65,"v":61},{"s":"65","e":52.55,"v":63},{"s":"65","e":52.45,"v":60},{"s":"65","e":52.35,"v":62},{"s":"65","e":52.25,"v":63},{"s":"65","e":52.2,"v":76},{"s":"65","e":52.16,"v":113},{"s":"65","e":52.12,"v":76},{"s":"65","e":52.06,"v":66},{"s":"65","e":52.0,"v":76},{"s":"65","e":51.94,"v":88},{"s":"65","e":51.88,"v":76},{"s":"65","e":51.82,"v":63},{"s":"65","e":51.7,"v":59},{"s":"65","e":51.6,"v":61},{"s":"65","e":51.5,"v":58},{"s":"65","e":51.4,"v":60},{"s":"65","e":51.3,"v":57},{"s":"65","e":51.2,"v":60},{"s":"65","e":51.1,"v":57},{"s":"65","e":51.0,"v":59},{"s":"65","e":50.9,"v":56},{"s":"65","e":50.8,"v":59},{"s":"65","e":50.7,"v":56},{"s":"65","e":50.6,"v":58},{"s":"65","e":50.5,"v":55},{"s":"65","e":50.4,"v":58},{"s":"65","e":50.3,"v":56},{"s":"65","e":50.2,"v":58},{"s":"65","e":50.1,"v":56},{"s":"65","e":50.0,"v":59},{"s":"65","e":49.9,"v":56},{"s":"65","e":49.8,"v":59},{"s":"65","e":49.7,"v":57},{"s":"65","e":49.6,"v":60},{"s":"65","e":49.5,"v":58},{"s":"65","e":49.4,"v":61},{"s":"65","e":49.3,"v":60},{"s":"65","e":49.2,"v":62},{"s":"65","e":49.15,"v":64},{"s":"65","e":49.1,"v":60},{"s":"65","e":49.0,"v":58},{"s":"65","e":48.9,"v":59},{"s":"65","e":48.85,"v":59},{"s":"65","e":48.7,"v":59},{"s":"65","e":48.56,"v":59},{"s":"65","e":48.54,"v":71},{"s":"65","e":48.52,"v":189},{"s":"65","e":48.5,"v":71},{"s":"65","e":48.46,"v":60},{"s":"65","e":48.4,"v":62},{"s":"65","e":48.35,"v":64},{"s":"65","e":48.28,"v":71},{"s":"65","e":48.2,"v":78},{"s":"65","e":48.16,"v":79},{"s":"65","e":48.1,"v":74},{"s":"65","e":48.03,"v":72},{"s":"65","e":47.96,"v":71},{"s":"65","e":47.9,"v":68},{"s":"65","e":47.82,"v":62},{"s":"65","e":47.7,"v":59},{"s":"65","e":47.6,"v":59},

{"s":"mono","e":58.2,"v":43},{"s":"mono","e":58.14,"v":48},{"s":"mono","e":58.1,"v":58},{"s":"mono","e":58.07,"v":66},{"s":"mono","e":58.03,"v":56},{"s":"mono","e":58.0,"v":48},{"s":"mono","e":57.9,"v":45},{"s":"mono","e":57.8,"v":42},{"s":"mono","e":57.7,"v":44},{"s":"mono","e":57.6,"v":41},{"s":"mono","e":57.5,"v":43},{"s":"mono","e":57.4,"v":40},{"s":"mono","e":57.3,"v":42},{"s":"mono","e":57.2,"v":39},{"s":"mono","e":57.1,"v":41},{"s":"mono","e":57.0,"v":38},{"s":"mono","e":56.9,"v":40},{"s":"mono","e":56.8,"v":37},{"s":"mono","e":56.7,"v":39},{"s":"mono","e":56.6,"v":38},{"s":"mono","e":56.5,"v":41},{"s":"mono","e":56.42,"v":42},{"s":"mono","e":56.38,"v":46},{"s":"mono","e":56.35,"v":51},{"s":"mono","e":56.31,"v":42},{"s":"mono","e":56.25,"v":36},{"s":"mono","e":56.15,"v":34},{"s":"mono","e":56.05,"v":35},{"s":"mono","e":55.95,"v":38},{"s":"mono","e":55.91,"v":50},{"s":"mono","e":55.89,"v":90},{"s":"mono","e":55.87,"v":144},{"s":"mono","e":55.85,"v":90},{"s":"mono","e":55.83,"v":50},{"s":"mono","e":55.78,"v":31},{"s":"mono","e":55.7,"v":31},{"s":"mono","e":55.67,"v":38},{"s":"mono","e":55.64,"v":49},{"s":"mono","e":55.61,"v":38},{"s":"mono","e":55.55,"v":31},{"s":"mono","e":55.4,"v":29},{"s":"mono","e":55.2,"v":30},{"s":"mono","e":55.0,"v":28},{"s":"mono","e":54.8,"v":29},{"s":"mono","e":54.6,"v":27},{"s":"mono","e":54.4,"v":28},{"s":"mono","e":54.2,"v":26},{"s":"mono","e":54.0,"v":28},{"s":"mono","e":53.8,"v":27},{"s":"mono","e":53.6,"v":28},{"s":"mono","e":53.4,"v":29},{"s":"mono","e":53.25,"v":30},{"s":"mono","e":53.19,"v":36},{"s":"mono","e":53.16,"v":60},{"s":"mono","e":53.13,"v":123},{"s":"mono","e":53.1,"v":60},{"s":"mono","e":53.07,"v":35},{"s":"mono","e":53.0,"v":29},{"s":"mono","e":52.8,"v":27},{"s":"mono","e":52.6,"v":25},{"s":"mono","e":52.4,"v":26},{"s":"mono","e":52.25,"v":25},{"s":"mono","e":52.2,"v":32},{"s":"mono","e":52.18,"v":50},{"s":"mono","e":52.16,"v":81},{"s":"mono","e":52.14,"v":50},{"s":"mono","e":52.12,"v":32},{"s":"mono","e":52.08,"v":26},{"s":"mono","e":52.0,"v":22},{"s":"mono","e":51.8,"v":24},{"s":"mono","e":51.6,"v":22},{"s":"mono","e":51.4,"v":24},{"s":"mono","e":51.2,"v":22},{"s":"mono","e":51.0,"v":23},{"s":"mono","e":50.8,"v":21},{"s":"mono","e":50.6,"v":23},{"s":"mono","e":50.4,"v":22},{"s":"mono","e":50.2,"v":24},{"s":"mono","e":50.0,"v":22},{"s":"mono","e":49.8,"v":24},{"s":"mono","e":49.6,"v":23},{"s":"mono","e":49.4,"v":25},{"s":"mono","e":49.2,"v":26},{"s":"mono","e":49.0,"v":24},{"s":"mono","e":48.85,"v":25},{"s":"mono","e":48.7,"v":25},{"s":"mono","e":48.56,"v":26},{"s":"mono","e":48.54,"v":60},{"s":"mono","e":48.52,"v":400},{"s":"mono","e":48.5,"v":60},{"s":"mono","e":48.48,"v":28},{"s":"mono","e":48.4,"v":27},{"s":"mono","e":48.3,"v":30},{"s":"mono","e":48.2,"v":29},{"s":"mono","e":48.0,"v":27},{"s":"mono","e":47.8,"v":26},{"s":"mono","e":47.6,"v":26}
],
"solid": [{"e":56.146,"v":543,"e2":51.727,"v2":543},{"e":51.727,"v":543,"e2":51.727,"v2":512},{"e":48.845,"v":240,"e2":48.845,"v2":363},{"e":48.845,"v":363,"e2":49.16,"v2":363}],
"dashed": [{"e":58.245,"v":543,"e2":56.146,"v2":543}],
"bars": [{"e":56.35,"v":396,"v2":373},{"e":55.71,"v":409,"v2":385},{"e":52.164,"v":434,"v2":318},{"e":51.944,"v":434,"v2":409},{"e":49.146,"v":280,"v2":255}],
"down": [{"e":51.727,"v":501}],
"left": [{"e":49.394,"v":363}],
"t24": [{"e":57.94,"v":553,"t":"Ne 2p correlation satellites"},{"e":47.504,"v":258,"t":"<N>"}],
"t25": [{"e":57.155,"v":500,"t":"(¹S)3s"},{"e":55.765,"v":496,"t":"(¹D)3p(²P)"},{"e":53.69,"v":498,"t":"(³P)3p"},{"e":52.71,"v":455,"t":"(¹D)3s"},{"e":57.25,"v":409,"t":"(³P)3d"},{"e":55.765,"v":417,"t":"(¹D)3p(²F)"},{"e":48.26,"v":461,"t":"2s"},{"e":50.12,"v":288,"t":"(³P)3s"}],
"t26": [{"e":47.595,"v":549,"t":"Neon Cluster Series"},{"e":47.88,"v":513,"t":"hν = \u00a060.5 eV"}],
"t22": [{"e":49.42,"v":381,"t":"x 7"},{"e":47.39,"v":235,"t":"500"},{"e":47.422,"v":196,"t":"208"},{"e":47.422,"v":155,"t":"184"},{"e":47.422,"v":118,"t":"152"},{"e":47.357,"v":80,"t":"97"},{"e":47.357,"v":46,"t":"65"},{"e":47.422,"v":18,"t":"monomer"}]
},
"encoding": {
"x": {"field": "e", "type": "quantitative", "scale": {"domain": [58.275, 47.54], "nice": false, "zero": false},
 "axis": {"title": "Binding Energy (eV)", "values": [58,57.5,57,56.5,56,55.5,55,54.5,54,53.5,53,52.5,52,51.5,51,50.5,50,49.5,49,48.5,48], "grid": false, "domain": false, "tickColor": "black", "tickWidth": 2.5, "tickSize": {"condition": {"test": "datum.value % 2 === 0", "value": -19}, "value": -10}, "labelExpr": "datum.value % 2 === 0 ? toString(datum.value) : ''", "labelFontSize": 24, "labelColor": "black", "labelPadding": 34, "labelFont": "Liberation Sans", "titleFont": "Liberation Sans", "titleFontSize": 26, "titleFontWeight": "normal", "titleColor": "black", "titleBaseline": "alphabetic", "titleAlign": "center", "titleX": 320, "titleY": 82}},
"y": {"field": "v", "type": "quantitative", "scale": {"domain": [0, 584], "nice": false, "zero": false},
 "axis": {"title": "Intensity (arb. u.)", "ticks": false, "labels": false, "domain": false, "grid": false, "titleFont": "Liberation Sans", "titleFontSize": 26, "titleFontWeight": "normal", "titleColor": "black", "titleAngle": 270, "titleBaseline": "alphabetic", "titleAlign": "center", "titleX": -38, "titleY": 292}}
},
"layer": [
{"data": {"name": "sp"}, "mark": {"type": "line", "color": "black", "strokeWidth": 1.2, "strokeJoin": "round"}, "encoding": {"detail": {"field": "s"}}},
{"data": {"name": "solid"}, "mark": {"type": "rule", "color": "black", "strokeWidth": 2.2}, "encoding": {"x2": {"field": "e2"}, "y2": {"field": "v2"}}},
{"data": {"name": "dashed"}, "mark": {"type": "rule", "color": "black", "strokeWidth": 2.2, "strokeDash": [7, 5]}, "encoding": {"x2": {"field": "e2"}, "y2": {"field": "v2"}}},
{"data": {"name": "bars"}, "mark": {"type": "rule", "color": "black", "strokeWidth": 3}, "encoding": {"y2": {"field": "v2"}}},
{"data": {"name": "down"}, "mark": {"type": "point", "shape": "M-0.385,-1L0.385,-1L0,1Z", "size": 676, "filled": true, "color": "black", "opacity": 1, "strokeWidth": 0}},
{"data": {"name": "left"}, "mark": {"type": "point", "shape": "M1,-0.28L1,0.28L-1,0Z", "size": 801, "filled": true, "color": "black", "opacity": 1, "strokeWidth": 0}},
{"data": {"name": "t24"}, "mark": {"type": "text", "align": "left", "baseline": "alphabetic", "fontSize": 24, "color": "black", "font": "Liberation Sans"}, "encoding": {"text": {"field": "t"}}},
{"data": {"name": "t25"}, "mark": {"type": "text", "align": "left", "baseline": "alphabetic", "fontSize": 25, "color": "black", "font": "Liberation Sans"}, "encoding": {"text": {"field": "t"}}},
{"data": {"name": "t26"}, "mark": {"type": "text", "align": "right", "baseline": "alphabetic", "fontSize": 26, "color": "black", "font": "Liberation Sans"}, "encoding": {"text": {"field": "t"}}},
{"data": {"name": "t22"}, "mark": {"type": "text", "align": "left", "baseline": "alphabetic", "fontSize": 22, "color": "black", "font": "Liberation Sans"}, "encoding": {"text": {"field": "t"}}}
]
}
